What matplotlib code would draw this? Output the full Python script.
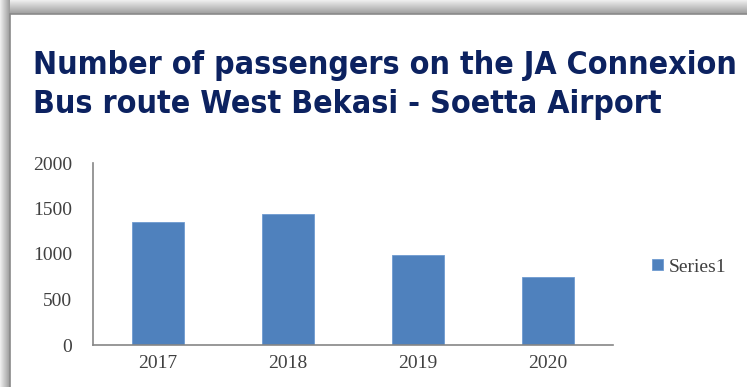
import numpy as np
import matplotlib
matplotlib.use("Agg")
import matplotlib.pyplot as plt
from matplotlib.patches import Rectangle

years = ["2017", "2018", "2019", "2020"]
passengers = [1355, 1443, 989, 751]
yticks = [0, 500, 1000, 1500, 2000]
title = "Number of passengers on the JA Connexion\nBus route West Bekasi - Soetta Airport"
series_name = "Series1"

W, H = 747, 387
fig = plt.figure(figsize=(W / 100, H / 100), dpi=100)

# background shadow frame
bg = fig.add_axes([0, 0, 1, 1])
bg.set_xlim(0, W)
bg.set_ylim(H, 0)
bg.axis("off")
top = np.linspace(0.93, 0.62, 14)[:, None] * np.ones((1, 10))
bg.imshow(np.dstack([top] * 3), extent=[0, W, 14, 0], aspect="auto", interpolation="bilinear")
left = np.ones((10, 1)) * np.linspace(0.93, 0.62, 10)[None, :]
bg.imshow(np.dstack([left] * 3), extent=[0, 10, H, 0], aspect="auto", interpolation="bilinear")
bg.add_patch(Rectangle((10, 14), W, H, facecolor="white", edgecolor="#8a8a8a", lw=1.2))
bg.set_xlim(0, W)
bg.set_ylim(H, 0)

fig.text(33 / W, 1 - 50 / H, title, ha="left", va="top", fontsize=23,
         fontweight="bold", color="#0c2260", family="DejaVu Sans",
         linespacing=1.33, fontstretch="condensed")

ax = fig.add_axes([93 / W, 1 - 345 / H, (613 - 93) / W, (345 - 163) / H])
x = np.arange(len(years))
ax.bar(x, passengers, width=0.4, color="#4f81bd", edgecolor="#6f9bd0", linewidth=0.6, label=series_name)
ax.set_xlim(-0.5, len(years) - 0.5)
ax.set_ylim(0, 2000)
ax.set_yticks(yticks)
ax.set_xticks(x)
ax.set_xticklabels(years)
for s in ["top", "right"]:
    ax.spines[s].set_visible(False)
ax.spines["left"].set_color("#868686")
ax.spines["bottom"].set_color("#868686")
ax.spines["left"].set_linewidth(1.2)
ax.spines["bottom"].set_linewidth(1.2)
ax.tick_params(length=0, labelsize=14, colors="#404040")
for lab in ax.get_xticklabels() + ax.get_yticklabels():
    lab.set_family("Liberation Serif")
ax.tick_params(axis="y", pad=15)
ax.tick_params(axis="x", pad=7)

leg = ax.legend(loc="center left", bbox_to_anchor=((652 - 93) / (613 - 93), (345 - 267) / (345 - 163)),
                frameon=False, prop={"family": "Liberation Serif", "size": 14},
                handlelength=0.55, handleheight=0.55, handletextpad=0.3, borderpad=0,
                borderaxespad=0)
for t in leg.get_texts():
    t.set_color("#404040")

fig.savefig("out.png", dpi=100)
